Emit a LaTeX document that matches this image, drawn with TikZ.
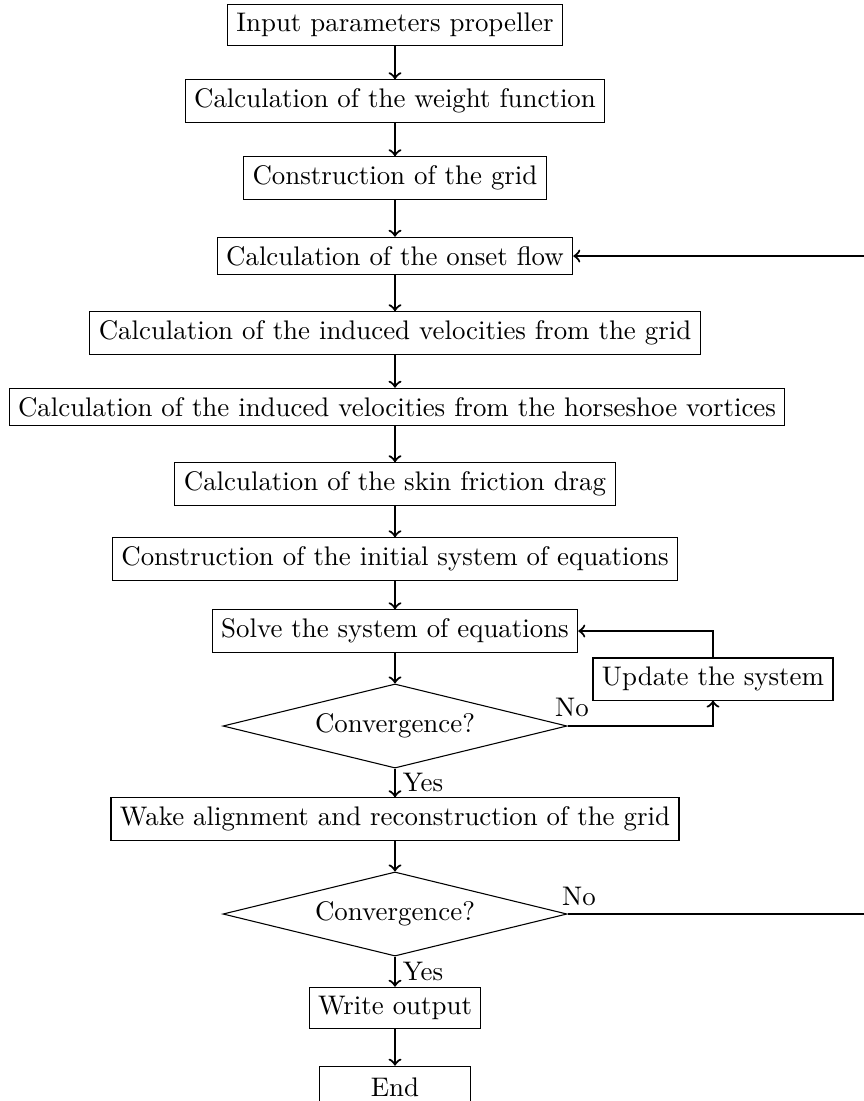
\documentclass[tikz,border=0pt]{standalone}
\usetikzlibrary{shapes.geometric}
\begin{document}
\begin{tikzpicture}[x=0.372pt, y=-0.372pt,
  box/.style={draw, thin, inner sep=0.3333em},
  dec/.style={draw, thin, diamond, aspect=4.1, minimum width=128pt, minimum height=31.3pt, inner sep=0pt},
  flow/.style={->, thick}]
\useasboundingbox (0,0) rectangle (864,1101);
\clip (0,0) rectangle (864,1101);
\node[box] (n1) at (395,25) {Input parameters propeller};
\node[box] (n2) at (395,101) {Calculation of the weight function};
\node[box] (n3) at (395,178) {Construction of the grid};
\node[box] (n4) at (395,256) {Calculation of the onset flow};
\node[box] (n5) at (395,333) {Calculation of the induced velocities from the grid};
\node[box] (n6) at (397,407) {Calculation of the induced velocities from the horseshoe vortices};
\node[box] (n7) at (395,484) {Calculation of the skin friction drag};
\node[box] (n8) at (395,559) {Construction of the initial system of equations};
\node[box] (n9) at (395,631) {Solve the system of equations};
\node[box] (upd) at (713,679) {Update the system};
\node[dec] (d1) at (395,726) {Convergence?};
\node[box] (n10) at (395,819) {Wake alignment and reconstruction of the grid};
\node[dec] (d2) at (395,914) {Convergence?};
\node[box] (n11) at (395,1008) {Write output};
\node[box, minimum width=56.5pt, minimum height=15.5pt] (n12) at (395,1087) {End};
\coordinate (rb) at (885,914);
\coordinate (rt) at (885,256);
\draw[flow] (n1) -- (n2);
\draw[flow] (n2) -- (n3);
\draw[flow] (n3) -- (n4);
\draw[flow] (n4) -- (n5);
\draw[flow] (n5) -- (n6.north -| n5);
\draw[flow] (n6.south -| n7) -- (n7);
\draw[flow] (n7) -- (n8);
\draw[flow] (n8) -- (n9);
\draw[flow] (n9) -- (d1);
\draw[flow] (d1) -- node[right, inner sep=2.5pt] {Yes} (n10);
\draw[flow] (n10) -- (d2);
\draw[flow] (d2) -- node[right, inner sep=2.5pt] {Yes} (n11);
\draw[flow] (n11) -- (n12);
\draw[flow] (d1.east) -| (upd.south);
\draw[flow] (upd.north) |- (n9.east);
\draw[flow] (d2.east) -- (rb) -- (rt) -- (n4.east);
\node (no1) at (572,707) {No};
\node (no2) at (579,896) {No};
\end{tikzpicture}
\end{document}
